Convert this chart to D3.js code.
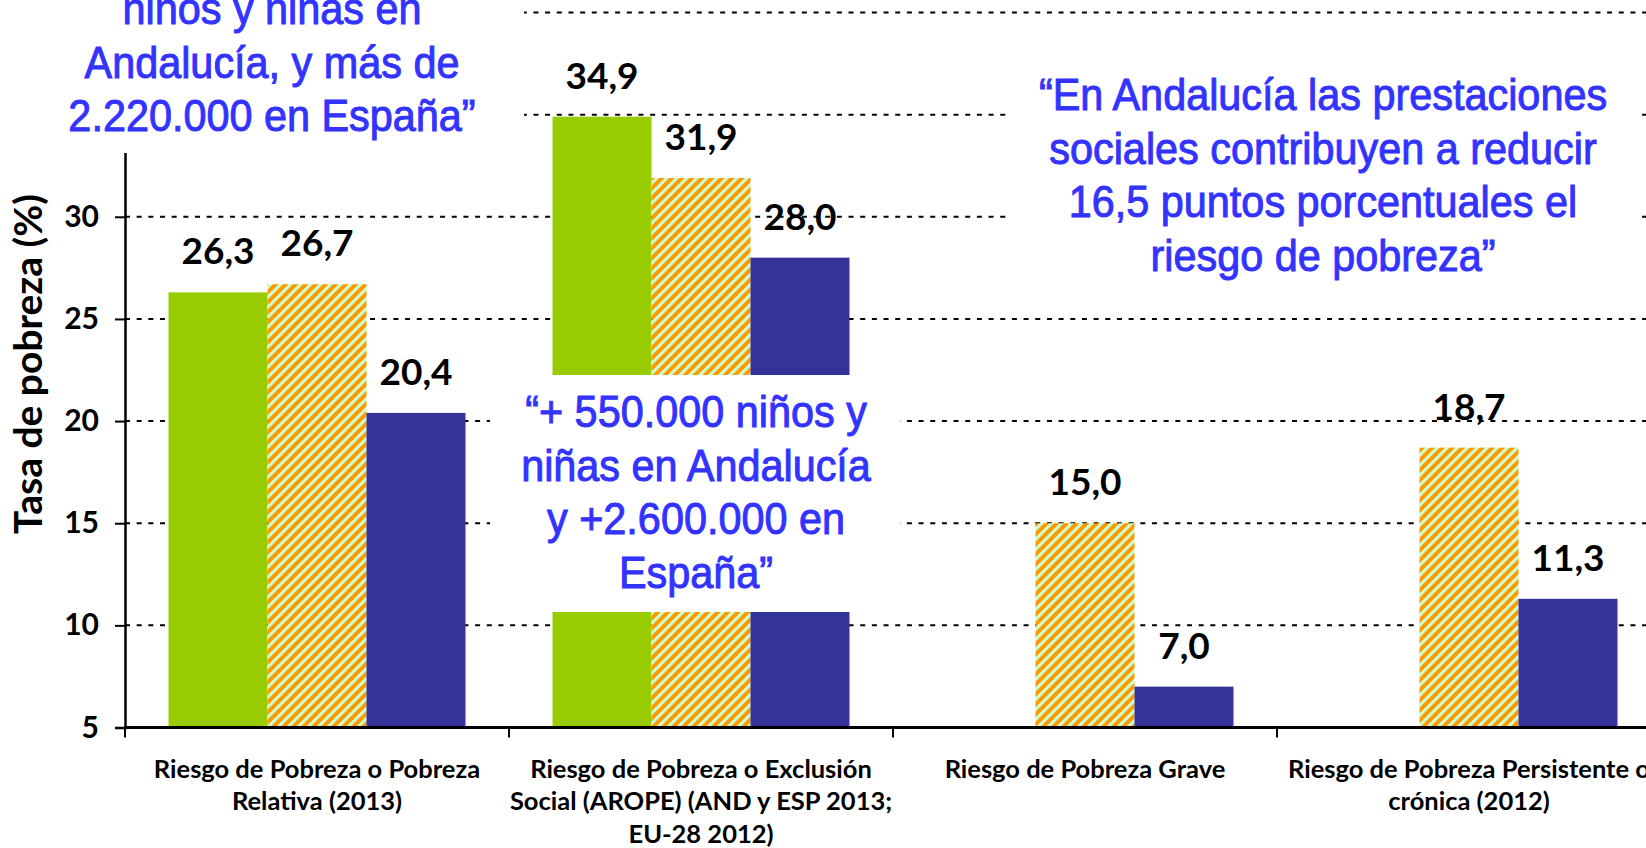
<!DOCTYPE html>
<html>
<head>
<meta charset="utf-8">
<script src="https://cdn.jsdelivr.net/npm/d3@7"></script>
<style>
  html, body { margin: 0; padding: 0; background: #fff; overflow: hidden; }
  svg { display: block; }
</style>
</head>
<body>
<div id="chart"></div>
<script>
// categories (x axis), line breaks as in the slide
const categories = [
    "Riesgo de Pobreza o Pobreza\nRelativa (2013)",
    "Riesgo de Pobreza o Exclusión\nSocial (AROPE) (AND y ESP 2013;\nEU-28 2012)",
    "Riesgo de Pobreza Grave",
    "Riesgo de Pobreza Persistente o\ncrónica (2012)"
]
const seriesNames = ["Andalucía", "España", "UE-28"]
const andalucia = [26.3, 34.9, null, null]
const espana = [26.7, 31.9, 15.0, 18.7]
const ue28 = [20.4, 28.0, 7.0, 11.3]
const yTicks = [5, 10, 15, 20, 25, 30, 35, 40]

// text boxes laid over the chart
const noteTopLeft = ["niños y niñas en", "Andalucía, y más de", "2.220.000 en España\u201D"]
const noteMiddle = ["\u201C+ 550.000 niños y", "niñas en Andalucía", "y +2.600.000 en", "España\u201D"]
const noteRight = ["\u201CEn Andalucía las prestaciones", "sociales contribuyen a reducir", "16,5 puntos porcentuales el", "riesgo de pobreza\u201D"]

const width = 1646, height = 848
const values = [andalucia, espana, ue28]

const svg = d3.select("#chart")
    .append("svg")
    .attr("width", width)
    .attr("height", height)

const defs = svg.append("defs")
const hatch = defs.append("pattern")
    .attr("id", "hatch")
    .attr("patternUnits", "userSpaceOnUse")
    .attr("width", 10)
    .attr("height", 10)
hatch.append("rect").attr("width", 10).attr("height", 10).attr("fill", "#CCFFCC")
hatch.append("path")
    .attr("d", "M-2.5,2.5 l5,-5 M0,10 l10,-10 M7.5,12.5 l5,-5")
    .attr("stroke", "#FF9900")
    .attr("stroke-width", 4)

const fills = ["#99CC00", "url(#hatch)", "#333399"]

const x0 = d3.scaleBand()
    .domain(categories)
    .range([125, 1661])
    .paddingInner(0.2266)
    .paddingOuter(0.1133)

const x1 = d3.scaleBand()
    .domain(seriesNames)
    .range([0, x0.bandwidth()])

const y = d3.scaleLinear()
    .domain([5, 40])
    .range([727.5, 12.5])

const labelFont = "Lato, 'Open Sans', sans-serif"
// Arial Narrow look: Liberation Sans squeezed horizontally
const noteFont = "'Liberation Sans', Arial, sans-serif"

// gridlines
svg.append("g")
    .selectAll("line")
    .data(yTicks.slice(1))
    .join("line")
    .attr("x1", 125)
    .attr("x2", 1661)
    .attr("y1", d => y(d))
    .attr("y2", d => y(d))
    .attr("stroke", "#000")
    .attr("stroke-width", 2)
    .attr("stroke-dasharray", "5 6.67")

// bars
const rows = []
categories.forEach((c, i) => {
    seriesNames.forEach((s, j) => {
        if (values[j][i] != null) rows.push({ cat: c, series: s, value: values[j][i], idx: j })
    })
})

svg.append("g")
    .selectAll("rect")
    .data(rows)
    .join("rect")
    .attr("x", d => x0(d.cat) + x1(d.series))
    .attr("y", d => y(d.value))
    .attr("width", x1.bandwidth())
    .attr("height", d => y(5) - y(d.value))
    .attr("fill", d => fills[d.idx])

// y axis
const yAxis = svg.append("g")
    .attr("transform", "translate(125,0)")
    .call(d3.axisLeft(y).tickValues(yTicks).tickSize(10).tickPadding(16).tickFormat(d3.format("d")))
yAxis.select(".domain").attr("stroke", "#000").attr("stroke-width", 2.5)
yAxis.selectAll(".tick line").attr("stroke", "#000").attr("stroke-width", 2)
yAxis.selectAll(".tick text")
    .attr("fill", "#000")
    .style("font", `bold 30px ${labelFont}`)

svg.append("text")
    .attr("transform", "translate(42,364) rotate(-90)")
    .attr("text-anchor", "middle")
    .style("font", `bold 39px ${labelFont}`)
    .text("Tasa de pobreza (%)")

// x axis
svg.append("line")
    .attr("x1", 125).attr("x2", width)
    .attr("y1", y(5)).attr("y2", y(5))
    .attr("stroke", "#000")
    .attr("stroke-width", 3)

const step = x0.step()
svg.append("g")
    .selectAll("line")
    .data(categories)
    .join("line")
    .attr("x1", d => x0(d) - x0.paddingInner() * step / 2)
    .attr("x2", d => x0(d) - x0.paddingInner() * step / 2)
    .attr("y1", y(5))
    .attr("y2", y(5) + 10)
    .attr("stroke", "#000")
    .attr("stroke-width", 2)

const catLabel = svg.append("g")
    .selectAll("text")
    .data(categories)
    .join("text")
    .attr("text-anchor", "middle")
    .style("font", `bold 25.5px ${labelFont}`)
    .attr("x", d => x0(d) + x0.bandwidth() / 2)
    .attr("y", 778)
catLabel.selectAll("tspan")
    .data(d => d.split("\n").map(t => ({ t, x: x0(d) + x0.bandwidth() / 2 })))
    .join("tspan")
    .attr("x", d => d.x)
    .attr("dy", (d, i) => i ? 32.3 : 0)
    .text(d => d.t)

// value labels
svg.append("g")
    .selectAll("text")
    .data(rows)
    .join("text")
    .attr("text-anchor", "middle")
    .attr("x", d => x0(d.cat) + x1(d.series) + x1.bandwidth() / 2)
    .attr("y", d => y(d.value) - 28)
    .style("font", `bold 37px ${labelFont}`)
    .text(d => d3.format(".1f")(d.value).replace(".", ","))

// white text boxes
const notes = [
    { lines: noteTopLeft, box: [0, -10, 524, 163], cx: 272, base: 24 },
    { lines: noteMiddle, box: [490, 375, 410, 237], cx: 696, base: 427 },
    { lines: noteRight, box: [1008, 62, 632, 228], cx: 1323, base: 110 }
]
notes.forEach(n => {
    svg.append("rect")
        .attr("x", n.box[0]).attr("y", n.box[1])
        .attr("width", n.box[2]).attr("height", n.box[3])
        .attr("fill", "#fff")
    svg.append("g")
        .selectAll("text")
        .data(n.lines)
        .join("text")
        .attr("transform", (d, i) => `translate(${n.cx},${n.base + i * 53.5}) scale(0.92,1)`)
        .attr("text-anchor", "middle")
        .attr("fill", "#3333FF")
        .attr("stroke", "#3333FF")
        .attr("stroke-width", 1)
        .style("font", `45px ${noteFont}`)
        .text(d => d)
})
</script>
</body>
</html>
